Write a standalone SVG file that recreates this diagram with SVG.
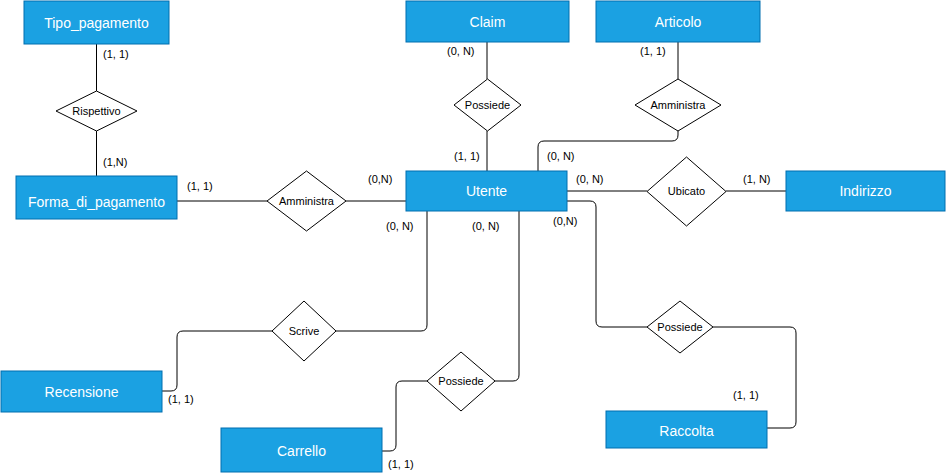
<svg xmlns="http://www.w3.org/2000/svg" width="947" height="475" viewBox="0 0 947 475">
<style>
.ent rect{fill:#1ba1e2;stroke:#006eaf;stroke-width:1}
.ent text{fill:#ffffff;font-family:"Liberation Sans",Arial,sans-serif;font-size:14px;text-anchor:middle}
.rel polygon{fill:#ffffff;stroke:#000000;stroke-width:1}
.rel text{fill:#000000;font-family:"Liberation Sans",Arial,sans-serif;font-size:11px;text-anchor:middle}
.conn path{fill:none;stroke:#000000;stroke-width:1}
.lbl text{fill:#000000;font-family:"Liberation Sans",Arial,sans-serif;font-size:11px}
</style>
<rect width="947" height="475" fill="#ffffff"/>
<g class="conn" id="connectors">
<path d="M96.5,44 L96.5,91"/>
<path d="M96.5,131 L96.5,176"/>
<path d="M487,42 L487,79"/>
<path d="M487,131 L487,171"/>
<path d="M678,42 L678,79"/>
<path d="M678,131 L678,135 Q678,141 672,141 L544,141 Q538,141 538,147 L538,171"/>
<path d="M567,191 L647,191"/>
<path d="M726,191 L786,191"/>
<path d="M177,201 L267,201"/>
<path d="M346,201 L406,201"/>
<path d="M427,211 L427,325 Q427,331 421,331 L336,331"/>
<path d="M272,331 L183,331 Q177,331 177,337 L177,385 Q177,391 171,391 L162,391"/>
<path d="M519,211 L519,375 Q519,381 513,381 L495,381"/>
<path d="M427,381 L402,381 Q396,381 396,387 L396,445 Q396,451 390,451 L382,451"/>
<path d="M567,201 L590,201 Q596,201 596,207 L596,321 Q596,327 602,327 L647,327"/>
<path d="M713,327 L790,327 Q796,327 796,333 L796,422 Q796,428 790,428 L767,428"/>
</g>
<g class="ent" id="tipo_pagamento"><rect x="24" y="1" width="145" height="43"/><text x="96.5" y="28">Tipo_pagamento</text></g>
<g class="ent" id="forma_di_pagamento"><rect x="16" y="176" width="161" height="43"/><text x="96.5" y="207">Forma_di_pagamento</text></g>
<g class="ent" id="claim"><rect x="406" y="1" width="163" height="41"/><text x="487.5" y="27">Claim</text></g>
<g class="ent" id="articolo"><rect x="596" y="1" width="164" height="41"/><text x="678" y="27">Articolo</text></g>
<g class="ent" id="utente"><rect x="406" y="171" width="161" height="40"/><text x="486.5" y="196">Utente</text></g>
<g class="ent" id="indirizzo"><rect x="786" y="171" width="159" height="40"/><text x="865.5" y="196">Indirizzo</text></g>
<g class="ent" id="recensione"><rect x="1" y="371" width="161" height="41"/><text x="81.5" y="397">Recensione</text></g>
<g class="ent" id="carrello"><rect x="221" y="428" width="161" height="44"/><text x="301.5" y="456">Carrello</text></g>
<g class="ent" id="raccolta"><rect x="606" y="411" width="161" height="37"/><text x="686.5" y="436">Raccolta</text></g>
<g class="rel" id="rispettivo"><polygon points="96.5,91 137,111 96.5,131 56,111"/><text x="96.5" y="115">Rispettivo</text></g>
<g class="rel" id="possiede_claim"><polygon points="487.5,79 521,105 487.5,131 454,105"/><text x="487.5" y="109">Possiede</text></g>
<g class="rel" id="amministra_articolo"><polygon points="678,79 721,105 678,131 635,105"/><text x="678" y="109">Amministra</text></g>
<g class="rel" id="amministra_forma"><polygon points="306.5,171 346,201 306.5,231 267,201"/><text x="306.5" y="205">Amministra</text></g>
<g class="rel" id="ubicato"><polygon points="686.5,157 726,191.5 686.5,226 647,191.5"/><text x="686.5" y="195">Ubicato</text></g>
<g class="rel" id="scrive"><polygon points="304,301 336,331 304,361 272,331"/><text x="304" y="335">Scrive</text></g>
<g class="rel" id="possiede_carrello"><polygon points="461,352 495,381 461,411 427,381"/><text x="461" y="385">Possiede</text></g>
<g class="rel" id="possiede_raccolta"><polygon points="680,301 713,327 680,353 647,327"/><text x="680" y="331">Possiede</text></g>
<g class="lbl" id="labels">
<text x="103" y="58">(1, 1)</text>
<text x="103" y="166">(1,N)</text>
<text x="447" y="55">(0, N)</text>
<text x="640" y="55">(1, 1)</text>
<text x="454" y="160">(1, 1)</text>
<text x="547" y="160">(0, N)</text>
<text x="576" y="183">(0, N)</text>
<text x="743" y="183">(1, N)</text>
<text x="553" y="225">(0,N)</text>
<text x="187" y="190">(1, 1)</text>
<text x="368" y="183">(0,N)</text>
<text x="386" y="230">(0, N)</text>
<text x="472" y="230">(0, N)</text>
<text x="168" y="403">(1, 1)</text>
<text x="388" y="468">(1, 1)</text>
<text x="733" y="399">(1, 1)</text>
</g>
</svg>
